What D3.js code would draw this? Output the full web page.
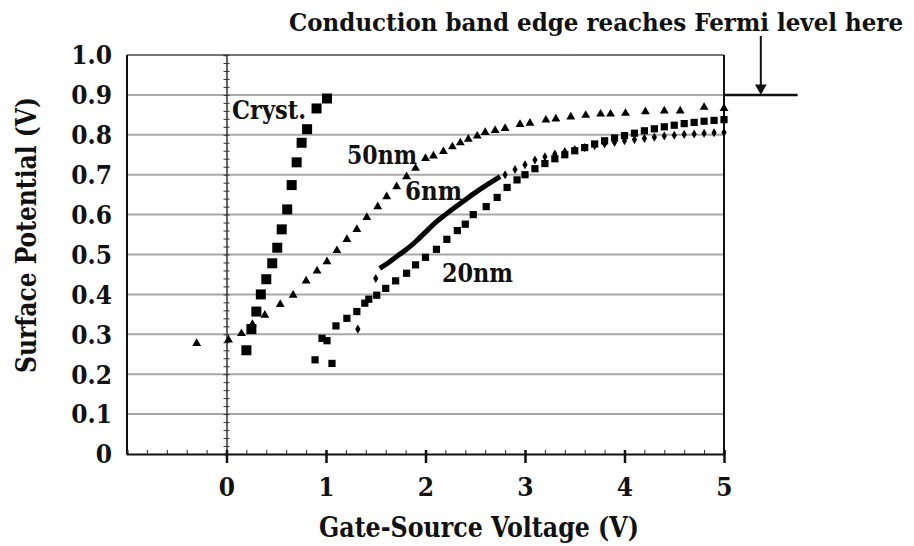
<!DOCTYPE html>
<html>
<head>
<meta charset="utf-8">
<script src="https://cdn.jsdelivr.net/npm/d3@7"></script>
<style>
  html, body { margin: 0; padding: 0; background: #fff; }
  svg { display: block; }
  text { font-family: "DejaVu Serif Condensed", "Times New Roman", "Liberation Serif", serif; font-stretch: condensed; font-weight: bold; fill: #111; }
</style>
</head>
<body>
<svg id="chart" width="914" height="546"></svg>
<script>
// ---- data ----
var crystX = [0.20, 0.25, 0.30, 0.345, 0.40, 0.46, 0.51, 0.555, 0.61, 0.655, 0.705, 0.755, 0.81, 0.905, 1.01];
var crystY = [0.26, 0.313, 0.357, 0.40, 0.438, 0.478, 0.517, 0.563, 0.613, 0.674, 0.731, 0.78, 0.814, 0.866, 0.891];

var nm50X = [-0.30, 0.02, 0.15, 0.26, 0.385, 0.54, 0.67, 0.80, 0.91, 1.01, 1.11, 1.21, 1.31, 1.41, 1.52, 1.61, 1.71, 1.81, 1.90, 2.00, 2.08, 2.18, 2.27, 2.35, 2.43, 2.52, 2.60, 2.70, 2.80, 2.95, 3.05, 3.21, 3.31, 3.46, 3.61, 3.76, 3.86, 4.01, 4.21, 4.40, 4.56, 4.80, 5.00];
var nm50Y = [0.277, 0.286, 0.302, 0.325, 0.348, 0.375, 0.398, 0.434, 0.459, 0.482, 0.51, 0.538, 0.563, 0.593, 0.62, 0.645, 0.67, 0.695, 0.716, 0.741, 0.747, 0.758, 0.77, 0.78, 0.789, 0.797, 0.806, 0.811, 0.816, 0.826, 0.829, 0.837, 0.84, 0.845, 0.849, 0.852, 0.852, 0.854, 0.858, 0.86, 0.86, 0.869, 0.866];

var nm20X = [0.89, 1.06, 0.96, 1.01, 1.10, 1.21, 1.31, 1.39, 1.43, 1.51, 1.60, 1.70, 1.81, 1.90, 2.00, 2.11, 2.215, 2.32, 2.40, 2.48, 2.61, 2.72, 2.82, 2.92, 3.0, 3.1, 3.2, 3.3, 3.4, 3.5, 3.6, 3.7, 3.8, 3.9, 4.0, 4.1, 4.2, 4.3, 4.4, 4.5, 4.6, 4.7, 4.8, 4.9, 5.0];
var nm20Y = [0.236, 0.227, 0.29, 0.284, 0.321, 0.34, 0.357, 0.378, 0.388, 0.398, 0.415, 0.434, 0.453, 0.474, 0.493, 0.513, 0.538, 0.56, 0.576, 0.60, 0.62, 0.643, 0.668, 0.687, 0.70, 0.715, 0.728, 0.74, 0.75, 0.76, 0.768, 0.777, 0.785, 0.792, 0.798, 0.804, 0.81, 0.815, 0.82, 0.824, 0.828, 0.831, 0.834, 0.836, 0.838];

// 6nm: separate points plus the dense run that prints as a solid stroke
var nm6X = [1.32, 1.50, 2.8, 2.9, 3.0, 3.1, 3.2, 3.3, 3.4, 3.5, 3.6, 3.7, 3.8, 3.9, 4.0, 4.1, 4.2, 4.3, 4.4, 4.5, 4.6, 4.7, 4.8, 4.9, 5.0];
var nm6Y = [0.313, 0.44, 0.70, 0.713, 0.725, 0.737, 0.745, 0.752, 0.758, 0.763, 0.768, 0.773, 0.777, 0.781, 0.785, 0.788, 0.791, 0.794, 0.797, 0.799, 0.801, 0.802, 0.804, 0.805, 0.806];
var nm6RunX = [1.54, 1.63, 1.72, 1.81, 1.90, 2.00, 2.10, 2.20, 2.35, 2.50, 2.62, 2.75];
var nm6RunY = [0.465, 0.48, 0.497, 0.513, 0.532, 0.556, 0.58, 0.60, 0.628, 0.655, 0.675, 0.695];

var xTicks = [0, 1, 2, 3, 4, 5];
var yTicks = [0, 0.1, 0.2, 0.3, 0.4, 0.5, 0.6, 0.7, 0.8, 0.9, 1.0];
var yTickLabels = ["0", "0.1", "0.2", "0.3", "0.4", "0.5", "0.6", "0.7", "0.8", "0.9", "1.0"];

// ---- scales ----
var svg = d3.select("#chart");
var x = d3.scaleLinear().domain([-1, 5]).range([127, 724]);
var y = d3.scaleLinear().domain([0, 1]).range([454, 55]);

function pts(xs, ys) { return xs.map(function (v, i) { return [v, ys[i]]; }); }

// ---- grid ----
svg.append("g").selectAll("line").data(yTicks.slice(1)).join("line")
  .attr("x1", x(-1)).attr("x2", x(5))
  .attr("y1", function (d) { return y(d); }).attr("y2", function (d) { return y(d); })
  .attr("stroke", function (d) { return d === 1 ? "#777" : "#a8a8a8"; })
  .attr("stroke-width", 2);

// frame left / right
svg.append("line").attr("x1", x(-1)).attr("x2", x(-1)).attr("y1", y(1)).attr("y2", y(0)).attr("stroke", "#111").attr("stroke-width", 2);
svg.append("line").attr("x1", x(5)).attr("x2", x(5)).attr("y1", y(1)).attr("y2", y(0)).attr("stroke", "#111").attr("stroke-width", 2);

// ---- vertical axis at x=0 with fine ticks ----
var yMinor = svg.append("g").attr("transform", "translate(" + x(0) + ",0)")
  .call(d3.axisLeft(y).tickValues(d3.range(0, 1.001, 0.02)).tickSize(3).tickFormat(""));
yMinor.select(".domain").attr("stroke", "#333").attr("stroke-width", 1.5);
yMinor.selectAll(".tick line").attr("x2", 3).attr("x1", -3).attr("stroke", "#333");

// y labels
var yLab = svg.append("g").attr("transform", "translate(112,0)")
  .call(d3.axisLeft(y).tickValues(yTicks).tickSize(0).tickPadding(0).tickFormat(function (d, i) { return yTickLabels[i]; }));
yLab.select(".domain").remove();
yLab.attr("font-family", null);
yLab.selectAll("text").attr("font-size", 26).attr("dy", "0.34em");

// ---- bottom axis ----
var xMinor = svg.append("g").attr("transform", "translate(0," + y(0) + ")")
  .call(d3.axisBottom(x).tickValues(d3.range(-1, 5.001, 0.2)).tickSize(-4).tickFormat(""));
xMinor.select(".domain").attr("stroke", "#111").attr("stroke-width", 2);
xMinor.selectAll(".tick line").attr("stroke", "#222");

var xMaj = svg.append("g").attr("transform", "translate(0," + y(0) + ")")
  .call(d3.axisBottom(x).tickValues(xTicks).tickSize(9).tickPadding(10).tickFormat(d3.format("d")));
xMaj.select(".domain").remove();
xMaj.attr("font-family", null);
xMaj.selectAll(".tick line").attr("stroke", "#111").attr("stroke-width", 2.5).attr("y1", -4);
xMaj.selectAll("text").attr("font-size", 26).attr("dy", "0.9em");

// ---- series ----
var marks = svg.append("g");
function scatter(data, type, size) {
  marks.append("g").selectAll("path").data(data).join("path")
    .attr("transform", function (d) { return "translate(" + x(d[0]) + "," + y(d[1]) + ")"; })
    .attr("d", d3.symbol().type(type).size(size))
    .attr("fill", "#000");
}
scatter(pts(nm50X, nm50Y), d3.symbolTriangle, 34);
scatter(pts(nm20X, nm20Y), d3.symbolSquare, 52);
scatter(pts(nm6X, nm6Y), d3.symbolDiamond, 24);
marks.append("path").datum(pts(nm6RunX, nm6RunY))
  .attr("d", d3.line().x(function (d) { return x(d[0]); }).y(function (d) { return y(d[1]); }).curve(d3.curveMonotoneX))
  .attr("fill", "none").attr("stroke", "#000").attr("stroke-width", 5);
scatter(pts(crystX, crystY), d3.symbolSquare, 100);

// ---- series labels ----
function label(t, px, py, w) {
  svg.append("text").attr("x", px).attr("y", py).attr("font-size", 26)
    .attr("textLength", w).attr("lengthAdjust", "spacingAndGlyphs").text(t);
}
label("Cryst.", 232, 119, 74);
label("50nm", 347, 164, 70);
label("6nm", 405, 200, 57);
label("20nm", 442, 282, 71);

// ---- Fermi-level annotation ----
svg.append("line").attr("x1", x(5)).attr("x2", x(5.74)).attr("y1", y(0.9)).attr("y2", y(0.9)).attr("stroke", "#111").attr("stroke-width", 2.5);
svg.append("line").attr("x1", x(5.37)).attr("x2", x(5.37)).attr("y1", 36).attr("y2", y(0.9) - 8).attr("stroke", "#111").attr("stroke-width", 2);
svg.append("path").attr("d", d3.symbol().type(d3.symbolTriangle).size(60))
  .attr("transform", "translate(" + x(5.37) + "," + (y(0.9) - 7) + ") rotate(180)").attr("fill", "#111");
svg.append("text").attr("x", 289).attr("y", 31).attr("font-size", 25)
  .attr("textLength", 614).attr("lengthAdjust", "spacingAndGlyphs")
  .text("Conduction band edge reaches Fermi level here");

// ---- axis titles ----
svg.append("text").attr("x", 319).attr("y", 537).attr("font-size", 28)
  .attr("textLength", 320).attr("lengthAdjust", "spacingAndGlyphs")
  .text("Gate-Source Voltage (V)");
svg.append("text").attr("transform", "translate(36,373) rotate(-90)").attr("font-size", 28)
  .attr("textLength", 276).attr("lengthAdjust", "spacingAndGlyphs")
  .text("Surface Potential (V)");
</script>
</body>
</html>
